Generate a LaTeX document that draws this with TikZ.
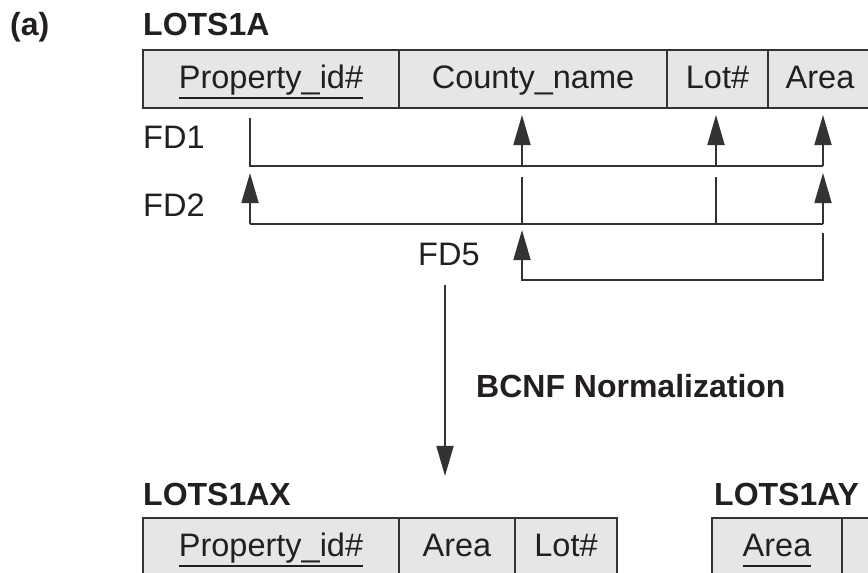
\documentclass[tikz,border=0pt]{standalone}
\usepackage{fontspec}
\setmainfont{Liberation Sans}
\usepackage{xcolor}
\usetikzlibrary{arrows.meta, positioning}
\definecolor{cellgray}{HTML}{E6E6E6}
\definecolor{linegray}{HTML}{333333}
\definecolor{inkblack}{HTML}{231F20}
% key attribute: text with a rule beneath it
\newcommand{\pkey}[1]{\setbox0\hbox{#1}\rlap{\rule[-11pt]{\wd0}{1.6pt}}\box0}

\begin{document}
\begin{tikzpicture}[
    x=1pt, y=-1pt,
    node distance = 0pt,
    every node/.style = {text=inkblack, font=\fontsize{32.5}{38}\selectfont},
    cell/.style = {draw=linegray, fill=cellgray, line width=2pt,
                   inner sep=0pt, outer sep=0pt, minimum height=58pt,
                   text height=24pt, text depth=6pt},
    title/.style = {anchor=base west, inner sep=0pt,
                    font=\fontsize{32}{38}\selectfont\bfseries},
    fdlabel/.style = {anchor=base west, inner sep=0pt},
    rail/.style = {draw=linegray, line width=1.8pt},
    fd/.style = {rail, -{Triangle[length=30pt, width=17pt]}},
                    ]
    \useasboundingbox (0,0) rectangle (868,573);
    \clip (0,0) rectangle (868,573);

    % relation before normalization
    \node (lbl)  [title] at (10,35)  {(a)};
    \node (lots) [title] at (143,35) {LOTS1A};
    \node (pid)    [cell, anchor=north west, minimum width=256pt] at (143,50)
                   {\pkey{Property\_id\#}};
    \node (county) [cell, right=of pid, minimum width=268pt]    {County\_name};
    \node (lot)    [cell, right=of county, minimum width=101pt] {Lot\#};
    \node (area)   [cell, right=of lot, minimum width=104pt]    {Area};

    \node (fd1) [fdlabel] at (143,148) {FD1};
    \node (fd2) [fdlabel] at (143,216) {FD2};
    \node (fd5) [fdlabel] at (418,265) {FD5};

    \coordinate (cP) at ([xshift=-21pt]pid.south);
    \coordinate (cC) at ([xshift=-11pt]county.south);
    \coordinate (cL) at ([xshift=-1.5pt]lot.south);
    \coordinate (cA) at ([xshift=3pt]area.south);

    % FD1
    \draw[rail] ([yshift=-10pt]cP) |- ([yshift=-58pt]cA);
    \foreach \c in {cC, cL, cA}
        \draw[fd] ([yshift=-58pt]\c) -- ([yshift=-7pt]\c);
    % FD2
    \draw[rail] ([yshift=-116pt]cP) -- ([yshift=-116pt]cA);
    \draw[fd] ([yshift=-116pt]cP) -- ([yshift=-65pt]cP);
    \draw[fd] ([yshift=-116pt]cA) -- ([yshift=-65pt]cA);
    \foreach \c in {cC, cL}
        \draw[rail] ([yshift=-69pt]\c) -- ([yshift=-116pt]\c);
    % FD5
    \draw[fd] ([yshift=-125pt]cA) |- ([yshift=-172pt]cC) -- ([yshift=-122pt]cC);

    % normalization step
    \node (norm) [title] at (476,397) {BCNF Normalization};
    \node (lotsx) [title] at (143,505) {LOTS1AX};
    \node (lotsy) [title] at (714,505) {LOTS1AY};
    \coordinate (normtop) at (445,285);
    \draw[fd, shorten >=6.5pt] (normtop) -- (normtop |- lotsx.north);

    % relations after normalization
    \node (pidx)  [cell, anchor=north west, minimum width=256pt] at (143,518)
                  {\pkey{Property\_id\#}};
    \node (areax) [cell, right=of pidx, minimum width=116pt]  {Area};
    \node (lotx)  [cell, right=of areax, minimum width=102pt] {Lot\#};
    \node (areay) [cell, anchor=north west, minimum width=130pt] at (712,518)
                  {\pkey{Area}};
    \node (cntyy) [cell, right=of areay, minimum width=150pt] {};
\end{tikzpicture}
\end{document}
